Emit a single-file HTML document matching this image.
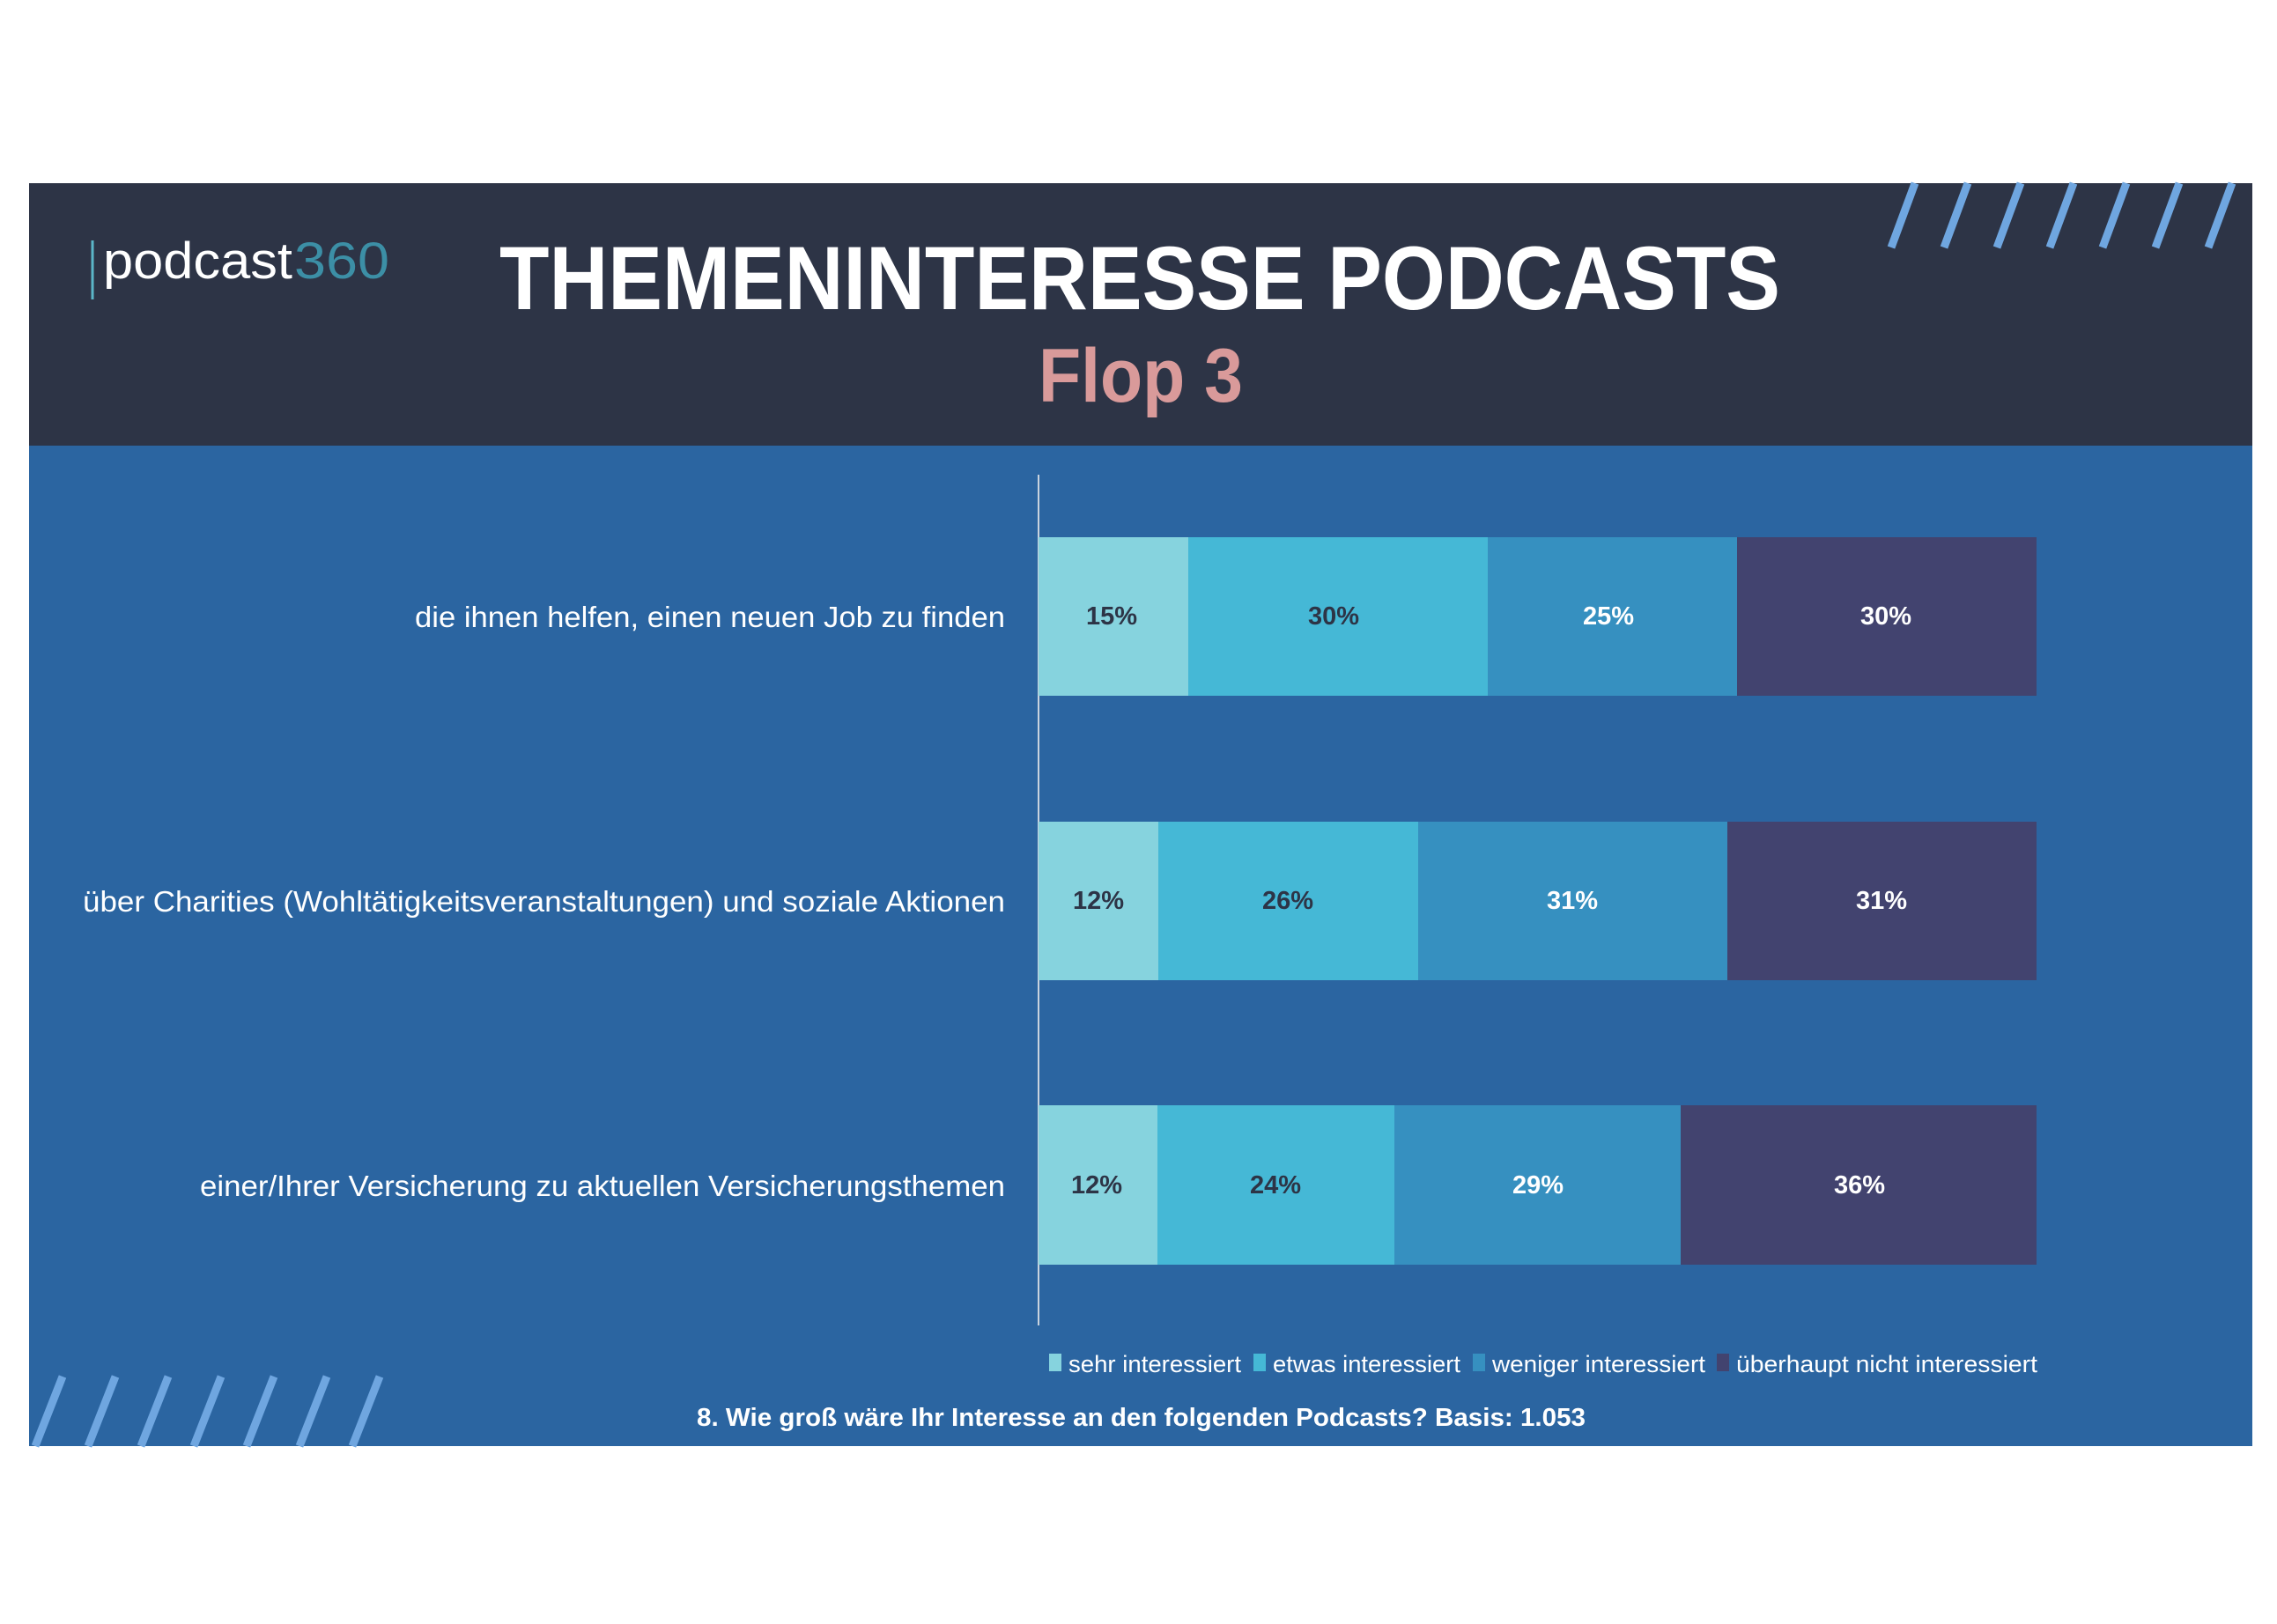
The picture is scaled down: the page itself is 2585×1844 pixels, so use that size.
<!DOCTYPE html>
<html><head><meta charset="utf-8"><style>html,body{margin:0;padding:0;background:#fff}svg{display:block}</style></head>
<body>
<svg width="2585" height="1844" viewBox="0 0 2585 1844" xmlns="http://www.w3.org/2000/svg" font-family="Liberation Sans, sans-serif">
<rect width="2585" height="1844" fill="#fff"/>
<rect x="33" y="208" width="2524" height="1434" fill="#2b65a1"/>
<rect x="33" y="208" width="2524" height="298" fill="#2d3446"/>
<g stroke="#6fa6e0" stroke-width="9">
<line x1="2174" y1="208" x2="2147" y2="281"/><line x1="2234" y1="208" x2="2207" y2="281"/><line x1="2294" y1="208" x2="2267" y2="281"/><line x1="2354" y1="208" x2="2327" y2="281"/><line x1="2414" y1="208" x2="2387" y2="281"/><line x1="2474" y1="208" x2="2447" y2="281"/><line x1="2534" y1="208" x2="2507" y2="281"/>
<line x1="71" y1="1563" x2="40" y2="1642"/><line x1="131" y1="1563" x2="100" y2="1642"/><line x1="191" y1="1563" x2="160" y2="1642"/><line x1="251" y1="1563" x2="220" y2="1642"/><line x1="311" y1="1563" x2="280" y2="1642"/><line x1="371" y1="1563" x2="340" y2="1642"/><line x1="431" y1="1563" x2="400" y2="1642"/>
</g>
<line x1="105" y1="273" x2="105" y2="340" stroke="#5bb6c8" stroke-width="3"/>
<text x="117" y="316" font-size="58" fill="#fff" textLength="215" lengthAdjust="spacingAndGlyphs">podcast</text>
<text x="334" y="316" font-size="58" fill="#3c8fa6" textLength="108" lengthAdjust="spacingAndGlyphs">360</text>
<text x="567" y="351" font-size="102" font-weight="bold" fill="#fff" textLength="1454" lengthAdjust="spacingAndGlyphs">THEMENINTERESSE PODCASTS</text>
<text x="1179" y="456" font-size="86" font-weight="bold" fill="#d99a9a" textLength="232" lengthAdjust="spacingAndGlyphs">Flop 3</text>
<line x1="1179" y1="539" x2="1179" y2="1505" stroke="#c9d3de" stroke-width="2"/>
<!-- row 1 -->
<rect x="1179" y="610" width="170" height="180" fill="#86d3de"/>
<rect x="1349" y="610" width="340" height="180" fill="#45b8d6"/>
<rect x="1689" y="610" width="283" height="180" fill="#3690c0"/>
<rect x="1972" y="610" width="340" height="180" fill="#42436f"/>
<!-- row 2 -->
<rect x="1179" y="933" width="136" height="180" fill="#86d3de"/>
<rect x="1315" y="933" width="295" height="180" fill="#45b8d6"/>
<rect x="1610" y="933" width="351" height="180" fill="#3690c0"/>
<rect x="1961" y="933" width="351" height="180" fill="#42436f"/>
<!-- row 3 -->
<rect x="1179" y="1255" width="135" height="181" fill="#86d3de"/>
<rect x="1314" y="1255" width="269" height="181" fill="#45b8d6"/>
<rect x="1583" y="1255" width="325" height="181" fill="#3690c0"/>
<rect x="1908" y="1255" width="404" height="181" fill="#42436f"/>
<g font-size="29" font-weight="bold" text-anchor="middle">
<text x="1262" y="709" fill="#2d3446">15%</text><text x="1514" y="709" fill="#2d3446">30%</text><text x="1826" y="709" fill="#fff">25%</text><text x="2141" y="709" fill="#fff">30%</text>
<text x="1247" y="1032" fill="#2d3446">12%</text><text x="1462" y="1032" fill="#2d3446">26%</text><text x="1785" y="1032" fill="#fff">31%</text><text x="2136" y="1032" fill="#fff">31%</text>
<text x="1245" y="1355" fill="#2d3446">12%</text><text x="1448" y="1355" fill="#2d3446">24%</text><text x="1746" y="1355" fill="#fff">29%</text><text x="2111" y="1355" fill="#fff">36%</text>
</g>
<g font-size="33" fill="#fff">
<text x="471" y="712" textLength="670" lengthAdjust="spacingAndGlyphs">die ihnen helfen, einen neuen Job zu finden</text>
<text x="94" y="1035" textLength="1047" lengthAdjust="spacingAndGlyphs">über Charities (Wohltätigkeitsveranstaltungen) und soziale Aktionen</text>
<text x="227" y="1358" textLength="914" lengthAdjust="spacingAndGlyphs">einer/Ihrer Versicherung zu aktuellen Versicherungsthemen</text>
</g>
<rect x="1191" y="1537" width="14" height="20" fill="#86d3de"/>
<rect x="1423" y="1537" width="14" height="20" fill="#45b8d6"/>
<rect x="1672" y="1537" width="14" height="20" fill="#3690c0"/>
<rect x="1949" y="1537" width="14" height="20" fill="#42436f"/>
<g font-size="27" fill="#fff">
<text x="1213" y="1558" textLength="196" lengthAdjust="spacingAndGlyphs">sehr interessiert</text>
<text x="1445" y="1558" textLength="213" lengthAdjust="spacingAndGlyphs">etwas interessiert</text>
<text x="1694" y="1558" textLength="242" lengthAdjust="spacingAndGlyphs">weniger interessiert</text>
<text x="1971" y="1558" textLength="342" lengthAdjust="spacingAndGlyphs">überhaupt nicht interessiert</text>
</g>
<text x="791" y="1619" font-size="29" font-weight="bold" fill="#fff" textLength="1009" lengthAdjust="spacingAndGlyphs">8. Wie groß wäre Ihr Interesse an den folgenden Podcasts? Basis: 1.053</text>
</svg>
</body></html>
